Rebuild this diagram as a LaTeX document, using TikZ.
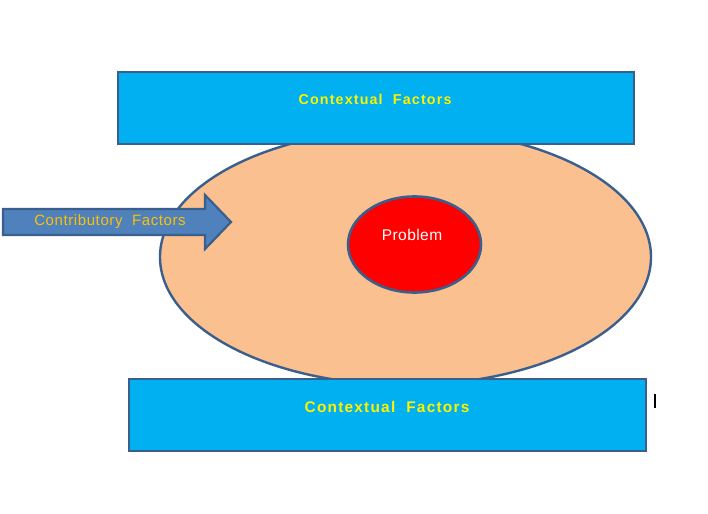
\documentclass[tikz,border=0pt]{standalone}
\usepackage{fontspec}
\setmainfont{Liberation Sans}
\newfontfamily\spaced[LetterSpace=8]{Liberation Sans}
\usetikzlibrary{shapes.arrows}
\definecolor{bordc}{HTML}{3A5F8C}
\definecolor{boxc}{HTML}{00B0F0}
\definecolor{peach}{HTML}{FAC090}
\definecolor{arrc}{HTML}{4F81BD}
\definecolor{goldc}{HTML}{FFC000}
\tikzset{
  ctxbox/.style={draw=bordc, line width=2.8pt, fill=boxc},
  ctxtext/.style={text=yellow, font=\spaced\bfseries\fontsize{14.3}{16}\selectfont},
}
\begin{document}
\begin{tikzpicture}[x=1pt,y=-1pt]
\useasboundingbox (0,0) rectangle (708,513);
% big ellipse
\draw[draw=bordc, line width=2.4pt, fill=peach] (405.5,257) ellipse [x radius=245.5, y radius=128];
% top box
\draw[ctxbox] (118,72) rectangle (634,144);
\node[ctxtext] (top) at (375,99) {Contextual\ \ Factors};
% bottom box
\draw[ctxbox] (129,379) rectangle (646,451);
\node[ctxtext, font=\spaced\bfseries\fontsize{15.4}{17}\selectfont] (bot) at (387,407) {Contextual\ \ Factors};
% problem
\draw[draw=bordc, line width=2.6pt, fill=red] (414.5,244.5) ellipse [x radius=66.5, y radius=48];
\node[text=white, font=\fontsize{15.5}{17}\selectfont\addfontfeature{LetterSpace=3}] (prob) at (412,235) {Problem};
% arrow
\draw[draw=bordc, line width=2.2pt, fill=arrc, line join=miter]
  (3,209) -- (205,209) -- (205,195) -- (231,222) -- (205,249) -- (205,235) -- (3,235) -- cycle;
\node[text=goldc, font=\fontsize{15}{17}\selectfont\addfontfeature{LetterSpace=4}] (contrib) at (110,222) {Contributory\ \ Factors};
% small cursor mark
\fill[black] (654,394) rectangle (656,408);
\end{tikzpicture}
\end{document}
